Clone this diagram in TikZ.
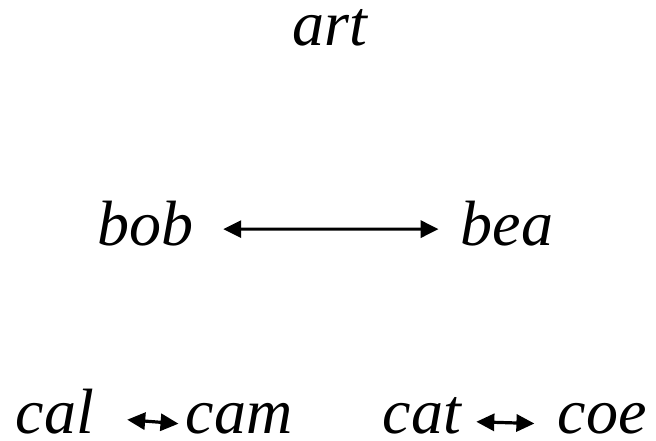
\documentclass[tikz,border=0pt]{standalone}
\usepackage{fontspec}
\setmainfont{Liberation Serif}
\usetikzlibrary{arrows.meta}

\begin{document}
\begin{tikzpicture}[
  x=1pt, y=-1pt,
  word/.style={font=\fontsize{64}{70}\selectfont\itshape, inner sep=0pt, anchor=base},
  arr/.style={{Triangle[length=18pt,width=17pt]}-{Triangle[length=18pt,width=17pt]}, line width=3.2pt}
]
\useasboundingbox (0,0) rectangle (656,441);

\node[word] (art) at (330,46) {art};
\node[word] (bob) at (145,245) {bob};
\node[word] (bea) at (507,245) {bea};
\node[word] (cal) at (55,433) {cal};
\node[word] (cam) at (239,433) {cam};
\node[word] (cat) at (422,433) {cat};
\node[word] (coe) at (602,433) {coe};

\draw[arr, shorten <=30pt, shorten >=22pt] ([yshift=-6pt]bob.east) -- ([yshift=-6pt]bea.west);
\draw[arr, shorten <=33pt, shorten >=7pt] ([yshift=-6pt]cal.east) -- ([yshift=-6pt]cam.west);
\draw[arr, shorten <=15pt, shorten >=23pt] ([yshift=-6pt]cat.east) -- ([yshift=-6pt]coe.west);
\end{tikzpicture}
\end{document}
